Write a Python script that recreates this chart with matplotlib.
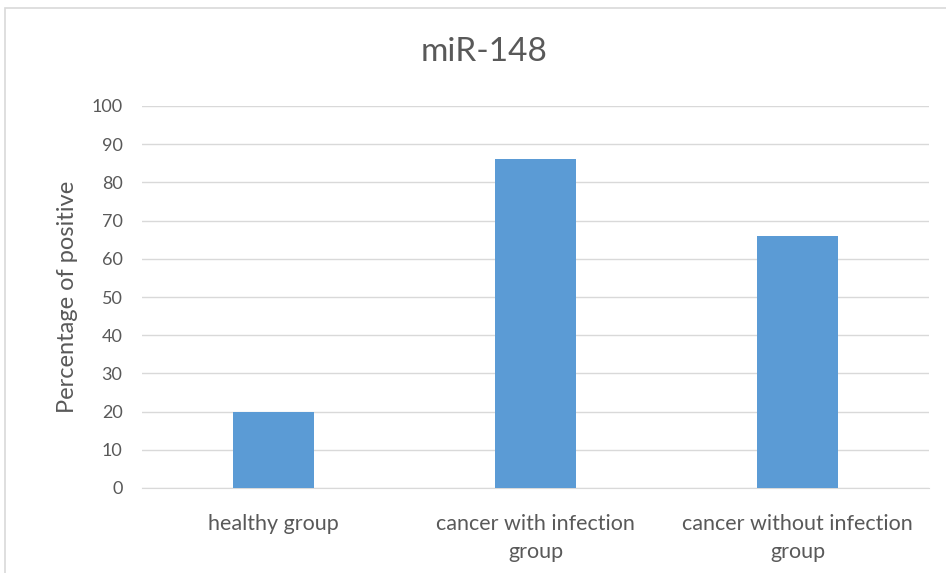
import matplotlib
matplotlib.use("Agg")
import matplotlib.pyplot as plt
from matplotlib.patches import Rectangle

categories = ["healthy group", "cancer with infection\ngroup", "cancer without infection\ngroup"]
values = [20, 86, 66]
yticks = [0, 10, 20, 30, 40, 50, 60, 70, 80, 90, 100]

plt.rcParams["font.family"] = ["Lato", "DejaVu Sans"]
text_color = "#595959"

fig = plt.figure(figsize=(9.46, 5.73), dpi=100)
fig.patches.append(Rectangle((5 / 946, -0.01), 1.02, 1 - 8 / 573 + 0.01,
                             transform=fig.transFigure, fill=False,
                             edgecolor="#d9d9d9", linewidth=1.2))

ax = fig.add_axes([142 / 946, 85 / 573, 787 / 946, 382 / 573])
x = range(len(categories))
ax.bar(x, values, width=0.31, color="#5b9bd5", zorder=3)

ax.set_xlim(-0.5, 2.5)
ax.set_ylim(0, 100)
ax.set_yticks(yticks)
ax.set_xticks(list(x))
ax.set_xticklabels(categories, fontsize=15.5, color=text_color, linespacing=1.45)
ax.tick_params(axis="y", labelsize=13, labelcolor=text_color, length=0, pad=14)
ax.tick_params(axis="x", length=0, pad=19)
ax.grid(axis="y", color="#d9d9d9", linewidth=1, zorder=0)
for s in ["top", "right", "left"]:
    ax.spines[s].set_visible(False)
ax.spines["bottom"].set_color("#d9d9d9")

ax.set_ylabel("Percentage of positive", fontsize=17, color=text_color, labelpad=10)
fig.text(484 / 946, 1 - 52 / 573, "miR-148", ha="center", va="center",
         fontsize=24, color=text_color)

fig.savefig("out.png", dpi=100)
